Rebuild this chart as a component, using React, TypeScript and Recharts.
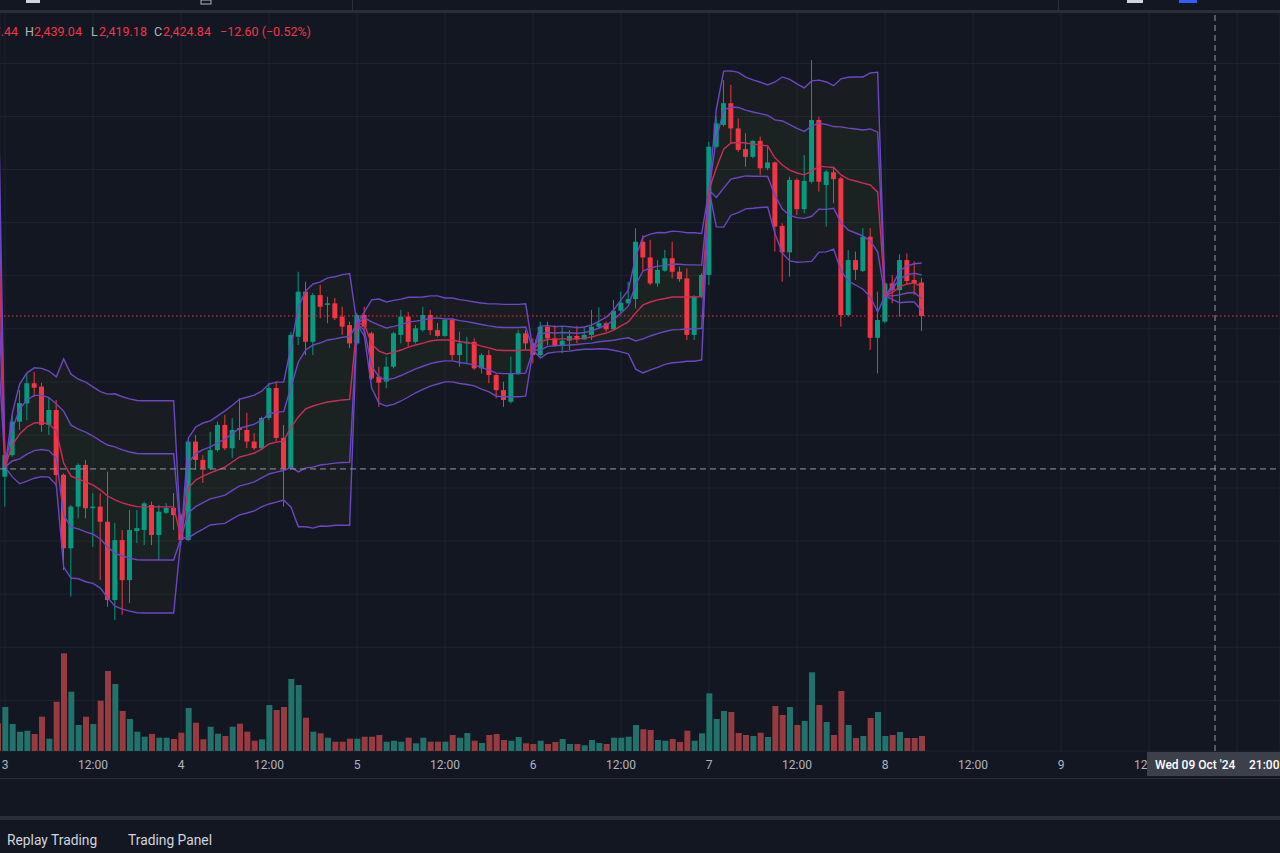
import React from "react";
import {
  ComposedChart,
  XAxis,
  YAxis,
  CartesianGrid,
  Bar,
  Line,
  Area,
  Cell,
  ReferenceLine,
} from "recharts";

// hourly candles, index 0 = Thu 03 Oct 2024 00:00 (ETH/USD, 1h)
const FIRST_HOUR = -1;

const opens = [
  2382.6,
  2364.3, 2372.4, 2385.0, 2391.9, 2399.5, 2398.2, 2383.8, 2389.4, 2365.0, 2337.3, 2353.0, 2368.7,
  2352.4, 2353.0, 2347.3, 2317.8, 2340.4, 2325.3, 2343.8, 2344.2, 2353.6, 2342.3, 2350.7, 2352.5,
  2349.8, 2340.4, 2377.5, 2370.6, 2367.4, 2374.3, 2383.8, 2375.0, 2382.6, 2381.9, 2377.5, 2375.0,
  2386.4, 2397.7, 2378.9, 2367.4, 2417.0, 2434.0, 2415.1, 2432.7, 2429.0, 2429.6, 2424.6, 2421.4,
  2414.5, 2425.2, 2418.3, 2402.0, 2400.1, 2405.7, 2417.7, 2424.6, 2415.1, 2419.5, 2425.2, 2419.5,
  2417.3, 2423.3, 2410.1, 2414.5, 2415.1, 2405.1, 2410.1, 2402.6, 2396.9, 2392.5, 2403.2, 2418.3,
  2414.5, 2410.1, 2420.8, 2416.4, 2413.5, 2415.5, 2417.3, 2416.0, 2417.7, 2420.8, 2422.1, 2419.8,
  2426.8, 2429.6, 2431.2, 2452.8, 2446.9, 2437.1, 2441.9, 2446.6, 2441.5, 2439.0, 2417.7, 2432.1,
  2440.3, 2488.6, 2496.8, 2505.0, 2495.5, 2487.7, 2484.8, 2490.8, 2480.5, 2482.7, 2458.8, 2448.8,
  2476.1, 2465.1, 2475.4, 2498.7, 2474.2, 2479.0, 2476.7, 2425.2, 2445.9, 2441.8, 2454.7, 2416.6,
  2422.7, 2437.1, 2434.6, 2445.9, 2438.4, 2437.44,
];

const highs = [
  2385.6,
  2373.2, 2387.5, 2396.9, 2403.3, 2403.7, 2399.6, 2393.9, 2393.2, 2365.5, 2353.6, 2369.3, 2370.6,
  2358.1, 2358.1, 2366.2, 2346.8, 2344.2, 2351.7, 2351.7, 2354.9, 2354.9, 2353.6, 2354.3, 2358.1,
  2350.6, 2378.1, 2380.0, 2372.4, 2381.2, 2385.0, 2387.5, 2386.4, 2393.9, 2388.3, 2380.7, 2386.9,
  2399.6, 2400.1, 2383.8, 2418.9, 2441.5, 2437.7, 2433.5, 2436.5, 2432.1, 2431.6, 2428.3, 2422.7,
  2426.0, 2428.3, 2418.9, 2405.7, 2409.5, 2418.9, 2427.1, 2426.4, 2421.4, 2428.3, 2427.1, 2422.2,
  2423.5, 2424.0, 2418.9, 2417.0, 2416.4, 2410.8, 2412.0, 2403.2, 2400.1, 2409.5, 2419.5, 2419.5,
  2416.4, 2422.7, 2422.7, 2421.4, 2420.8, 2419.5, 2421.1, 2420.8, 2427.1, 2428.1, 2422.7, 2430.9,
  2434.0, 2437.7, 2457.9, 2455.3, 2453.5, 2445.9, 2449.7, 2452.8, 2443.4, 2442.8, 2432.7, 2440.9,
  2490.5, 2499.9, 2513.7, 2511.9, 2499.3, 2493.7, 2491.1, 2492.4, 2488.6, 2483.0, 2459.8, 2477.3,
  2476.7, 2485.5, 2521.3, 2499.9, 2479.8, 2481.1, 2477.3, 2449.7, 2449.1, 2457.9, 2457.9, 2434.0,
  2437.7, 2440.3, 2448.1, 2448.4, 2445.5, 2439.04,
];

const lows = [
  2363.0,
  2353.0, 2371.8, 2381.9, 2385.6, 2394.4, 2381.2, 2380.0, 2360.5, 2329.1, 2319.1, 2348.6, 2348.6,
  2337.8, 2325.3, 2315.3, 2310.3, 2312.2, 2316.7, 2339.3, 2338.5, 2338.5, 2332.9, 2350.2, 2344.2,
  2338.5, 2340.0, 2366.8, 2361.9, 2366.8, 2373.7, 2374.3, 2371.3, 2378.1, 2375.1, 2374.3, 2374.3,
  2385.6, 2377.5, 2353.0, 2366.8, 2413.9, 2410.1, 2410.1, 2424.0, 2422.1, 2423.3, 2417.7, 2412.7,
  2413.9, 2417.7, 2400.7, 2390.6, 2397.6, 2405.1, 2414.5, 2413.3, 2414.5, 2418.9, 2417.7, 2417.0,
  2417.0, 2408.2, 2405.7, 2407.0, 2404.5, 2403.2, 2399.5, 2393.8, 2390.6, 2391.9, 2402.6, 2412.0,
  2407.0, 2409.5, 2413.9, 2413.3, 2410.8, 2412.0, 2414.5, 2415.8, 2415.8, 2420.2, 2418.9, 2419.5,
  2425.8, 2429.6, 2427.7, 2441.5, 2436.5, 2435.9, 2441.5, 2439.0, 2437.7, 2415.8, 2415.8, 2431.5,
  2436.5, 2488.1, 2496.2, 2489.9, 2486.7, 2481.1, 2484.2, 2478.0, 2479.8, 2449.1, 2437.7, 2439.6,
  2462.9, 2463.5, 2474.8, 2471.7, 2458.5, 2467.3, 2420.8, 2424.6, 2438.4, 2441.4, 2412.0, 2403.2,
  2422.1, 2429.6, 2424.6, 2436.5, 2432.7, 2419.18,
];

const closes = [
  2364.3,
  2372.4, 2385.0, 2392.0, 2399.5, 2397.8, 2383.8, 2389.4, 2364.9, 2337.3, 2353.0, 2368.7, 2352.4,
  2353.0, 2347.3, 2317.8, 2340.4, 2325.3, 2344.2, 2344.9, 2354.2, 2342.3, 2351.1, 2352.5, 2349.8,
  2340.4, 2377.5, 2370.6, 2367.4, 2374.3, 2383.8, 2375.0, 2381.9, 2381.9, 2377.5, 2375.0, 2386.4,
  2397.7, 2378.9, 2367.4, 2417.7, 2434.0, 2415.1, 2432.7, 2428.3, 2429.6, 2424.0, 2420.8, 2414.5,
  2425.2, 2420.8, 2401.3, 2399.7, 2405.7, 2418.3, 2424.6, 2415.1, 2420.2, 2425.2, 2419.5, 2417.3,
  2423.3, 2410.1, 2414.5, 2415.1, 2405.1, 2410.1, 2402.6, 2396.9, 2393.2, 2403.2, 2418.3, 2414.5,
  2410.1, 2420.8, 2416.4, 2413.5, 2415.5, 2417.3, 2416.0, 2417.7, 2420.8, 2422.1, 2419.8, 2426.8,
  2429.8, 2431.2, 2452.8, 2446.9, 2437.1, 2442.2, 2446.6, 2441.5, 2438.7, 2417.7, 2432.1, 2440.3,
  2488.6, 2497.4, 2505.0, 2495.5, 2487.4, 2484.8, 2490.8, 2480.5, 2482.7, 2458.5, 2448.8, 2476.1,
  2465.1, 2475.7, 2498.7, 2475.4, 2479.2, 2476.4, 2425.2, 2445.9, 2442.2, 2454.7, 2416.6, 2423.3,
  2437.1, 2434.6, 2445.9, 2438.0, 2437.1, 2424.84,
];

const volumes = [
  2770,
  4400, 2700, 1930, 2030, 1700, 3430, 1230, 4930, 9770, 5930, 2600, 3430,
  2700, 5030, 8000, 6700, 4000, 3200, 1930, 1430, 1700, 1330, 1330, 1200,
  1830, 4300, 2830, 1170, 2430, 1730, 1500, 2430, 2730, 1930, 1030, 1170,
  4600, 4100, 4400, 7200, 6600, 3330, 1930, 1770, 1330, 930, 930, 1230,
  1230, 1430, 1430, 1600, 930, 1030, 930, 1330, 770, 1330, 930, 930,
  930, 1600, 1330, 1800, 1030, 800, 1600, 1700, 1100, 1030, 1400, 770,
  700, 1030, 700, 900, 1200, 700, 700, 570, 1100, 800, 700, 1330,
  1330, 1430, 2600, 2170, 2100, 1100, 1030, 1200, 900, 2030, 1030, 1770,
  5770, 3200, 4000, 3900, 1800, 1600, 1500, 1830, 1400, 4500, 3600, 4400,
  2600, 3000, 7870, 4600, 2900, 1600, 6000, 2600, 1300, 1500, 3300, 3900,
  1500, 1600, 1900, 1300, 1300, 1500,
];

// session VWAP (anchored daily) and its standard deviation
const vwaps = [
  2468.5,
  2367.9, 2376.2, 2380.4, 2383.0, 2384.5, 2384.7, 2384.1, 2381.5, 2369.4, 2364.5, 2363.4, 2362.3,
  2361.1, 2359.3, 2357.0, 2355.5, 2354.4, 2353.6, 2353.0, 2352.9, 2352.9, 2352.9, 2352.9, 2352.9,
  2341.2, 2360.0, 2363.0, 2364.5, 2365.7, 2366.8, 2367.9, 2369.8, 2371.7, 2372.4, 2373.2, 2374.7,
  2376.6, 2377.3, 2377.7, 2383.0, 2386.8, 2389.8, 2390.9, 2391.7, 2392.4, 2392.8, 2393.2, 2393.4,
  2421.8, 2421.8, 2414.3, 2411.6, 2410.5, 2411.1, 2412.0, 2413.1, 2413.9, 2414.6, 2415.4, 2415.8,
  2415.8, 2415.8, 2415.2, 2414.8, 2414.3, 2413.5, 2412.8, 2412.0, 2411.8, 2411.8, 2411.8, 2412.0,
  2412.0, 2415.0, 2416.0, 2416.0, 2416.2, 2416.2, 2416.2, 2416.5, 2416.9, 2417.7, 2418.4, 2419.5,
  2421.1, 2422.6, 2426.0, 2429.0, 2430.1, 2430.9, 2431.4, 2432.0, 2432.0, 2432.0, 2432.0, 2432.1,
  2472.3, 2480.6, 2487.7, 2490.0, 2490.2, 2490.0, 2489.6, 2489.3, 2488.9, 2484.4, 2481.7, 2479.8,
  2478.7, 2478.0, 2479.4, 2481.3, 2481.0, 2480.8, 2478.0, 2476.4, 2475.7, 2474.9, 2474.2, 2471.5,
  2432.4, 2433.7, 2435.8, 2436.9, 2437.3, 2435.8,
];

const deviations = [
  26.4,
  0, 6.0, 9.4, 10.2, 10.4, 10.2, 10.0, 10.2, 19.6, 19.2, 18.8, 18.8,
  18.5, 18.5, 19.2, 20.0, 20.0, 20.0, 20.0, 20.0, 20.0, 20.0, 20.0, 20.0,
  0, 9.4, 10.0, 10.0, 9.8, 10.2, 10.6, 10.7, 10.9, 10.9, 10.9, 10.9,
  11.3, 11.3, 11.1, 15.1, 20.7, 22.2, 23.0, 23.0, 23.4, 23.4, 23.6, 23.7,
  0, 2.3, 8.3, 9.8, 9.8, 9.8, 9.6, 9.4, 9.0, 8.7, 8.5, 8.3,
  7.9, 7.9, 7.9, 7.9, 7.9, 8.1, 8.3, 8.7, 8.7, 8.7, 8.7, 8.7,
  0, 3.0, 2.6, 2.4, 2.4, 2.3, 2.1, 2.1, 2.3, 2.6, 3.0, 3.8,
  4.9, 6.0, 10.6, 12.8, 12.8, 12.7, 12.4, 12.4, 12.3, 12.1, 12.1, 11.9,
  0, 11.1, 14.7, 13.6, 13.2, 12.4, 12.1, 11.8, 11.5, 14.3, 16.6, 17.1,
  16.8, 16.4, 17.0, 16.2, 16.0, 15.4, 18.1, 19.2, 19.6, 20.0, 21.1, 22.6,
  0, 1.3, 3.0, 3.4, 3.6, 4.5,
];

const tickHours = [0, 12, 24, 36, 48, 60, 72, 84, 96, 108, 120, 132, 144, 156, 168];
// the label at 168 ("10") lies under the crosshair time box and is not visible
const tickLabels = ["3", "12:00", "4", "12:00", "5", "12:00", "6", "12:00", "7", "12:00", "8", "12:00", "9", "12:00", ""];
const priceTicks = [2280, 2300, 2320, 2340, 2360, 2380, 2400, 2420, 2440, 2460, 2480, 2500, 2520];

const LAST_PRICE = 2424.84;
const CROSS_HOUR = 165;
const CROSS_PRICE = 2367.2;

const X_DOMAIN: [number, number] = [-0.682, 173.86];
const PRICE_DOMAIN: [number, number] = [2260.92, 2539.37];
const VOL_DOMAIN: [number, number] = [0, 73900];

const UP = "#089981";
const DOWN = "#f23645";
const UP_VOL = "#20726a";
const DOWN_VOL = "#983b41";
const BAND = "#6c47c4";
const VWAP = "#cc2c58";
const BG = "#131722";
const FONT = "Roboto, 'Noto Sans', sans-serif";

const data = opens.map((o, k) => {
  const v = vwaps[k];
  const d = deviations[k];
  return {
    t: FIRST_HOUR + k,
    open: o,
    high: highs[k],
    low: lows[k],
    close: closes[k],
    range: [lows[k], highs[k]],
    vol: volumes[k],
    vwap: v,
    u1: v + d,
    l1: v - d,
    u2: v + 2 * d,
    l2: v - 2 * d,
    band1: [v - d, v + d],
    band2: [v - 2 * d, v + 2 * d],
  };
});

const Candle = (props: any) => {
  const { x, y, width, height, payload } = props;
  if (!payload || x == null || y == null) return null;
  const { open, close, high, low } = payload;
  const top = Math.min(y, y + height);
  const h = Math.abs(height);
  const cx = x + width / 2;
  const span = high - low;
  const toY = (v: number) => (span > 0 ? top + ((high - v) / span) * h : top);
  const color = close >= open ? UP : DOWN;
  const yo = toY(open);
  const yc = toY(close);
  const bTop = Math.min(yo, yc);
  const bH = Math.max(1, Math.abs(yo - yc));
  return (
    <g>
      <line x1={cx} x2={cx} y1={top} y2={top + h} stroke={color} strokeWidth={1} />
      <rect x={cx - 2.5} y={bTop} width={5} height={bH} fill={color} />
    </g>
  );
};

const TimeTick = (props: any) => {
  const { x, y, payload } = props;
  const k = tickHours.indexOf(payload.value);
  const label = k >= 0 ? tickLabels[k] : "";
  if (!label) return null;
  return (
    <text x={x} y={y + 10} textAnchor="middle" fill="#b2b5be" fontSize={12} fontFamily={FONT}>
      {label}
    </text>
  );
};

export default function App() {
  return (
    <div style={{ position: "fixed", left: 0, top: 0, width: 1280, height: 853, background: BG, overflow: "hidden" }}>
      <div style={{ position: "absolute", left: 0, top: 0 }}>
        <ComposedChart width={1280} height={778} data={data} margin={{ top: 12, right: 0, bottom: 0, left: 0 }}>
          <CartesianGrid xAxisId="main" yAxisId="p" stroke="#1f2330" strokeWidth={1} />
          <XAxis
            xAxisId="main"
            dataKey="t"
            type="number"
            scale="linear"
            domain={X_DOMAIN}
            allowDataOverflow
            ticks={tickHours}
            interval={0}
            axisLine={false}
            tickLine={false}
            height={27}
            tick={<TimeTick />}
          />
          <XAxis xAxisId="vol" dataKey="t" type="number" scale="linear" domain={X_DOMAIN} allowDataOverflow hide />
          <YAxis yAxisId="p" type="number" domain={PRICE_DOMAIN} allowDataOverflow ticks={priceTicks} hide />
          <YAxis yAxisId="v" type="number" domain={VOL_DOMAIN} allowDataOverflow hide />

          <Area xAxisId="main" yAxisId="p" dataKey="band2" type="linear" stroke="none" fill="#808000" fillOpacity={0.05} dot={false} activeDot={false} isAnimationActive={false} />
          <Area xAxisId="main" yAxisId="p" dataKey="band1" type="linear" stroke="none" fill="#4caf50" fillOpacity={0.05} dot={false} activeDot={false} isAnimationActive={false} />

          <Bar xAxisId="vol" yAxisId="v" dataKey="vol" barSize={6} isAnimationActive={false}>
            {data.map((d) => (
              <Cell key={d.t} fill={d.close >= d.open ? UP_VOL : DOWN_VOL} />
            ))}
          </Bar>

          <Line xAxisId="main" yAxisId="p" dataKey="u2" type="linear" stroke={BAND} strokeWidth={1.4} dot={false} activeDot={false} isAnimationActive={false} />
          <Line xAxisId="main" yAxisId="p" dataKey="u1" type="linear" stroke={BAND} strokeWidth={1.4} dot={false} activeDot={false} isAnimationActive={false} />
          <Line xAxisId="main" yAxisId="p" dataKey="l1" type="linear" stroke={BAND} strokeWidth={1.4} dot={false} activeDot={false} isAnimationActive={false} />
          <Line xAxisId="main" yAxisId="p" dataKey="l2" type="linear" stroke={BAND} strokeWidth={1.4} dot={false} activeDot={false} isAnimationActive={false} />
          <Line xAxisId="main" yAxisId="p" dataKey="vwap" type="linear" stroke={VWAP} strokeWidth={1.4} dot={false} activeDot={false} isAnimationActive={false} />

          <Bar xAxisId="main" yAxisId="p" dataKey="range" barSize={5} shape={<Candle />} isAnimationActive={false} />

          <ReferenceLine xAxisId="main" yAxisId="p" y={LAST_PRICE} stroke={DOWN} strokeWidth={1} strokeDasharray="1.5 2.5" />
          <ReferenceLine xAxisId="main" yAxisId="p" y={CROSS_PRICE} stroke="#9598a1" strokeWidth={1} strokeDasharray="6 4" />
          <ReferenceLine xAxisId="main" yAxisId="p" x={CROSS_HOUR} stroke="#9598a1" strokeWidth={1} strokeDasharray="6 4" />
        </ComposedChart>
      </div>

      <svg width={1280} height={853} style={{ position: "absolute", left: 0, top: 0, pointerEvents: "none" }}>
        {/* top toolbar strip */}
        <rect x={0} y={0} width={1280} height={10} fill={BG} />
        <rect x={0} y={10} width={1280} height={3} fill="#2a2e39" />
        <rect x={26} y={0} width={14} height={3} fill="#d1d4dc" />
        <rect x={201} y={0} width={10} height={4} fill="none" stroke="#b2b5be" strokeWidth={1} />
        <rect x={1127} y={0} width={16} height={3} fill="#d1d4dc" />
        <rect x={1179} y={0} width={18} height={3} fill="#2962ff" />
        <rect x={352} y={0} width={1} height={10} fill="#2a2e39" />
        <rect x={1058} y={0} width={1} height={10} fill="#2a2e39" />

        {/* legend of last candle (its open is cut by the left edge, as in the source) */}
        <g fontFamily={FONT} fontSize={12.5}>
          <text x={18} y={36} textAnchor="end" fill={DOWN}>O2,437.44</text>
          <text x={25} y={36} fill="#b2b5be">H</text>
          <text x={34} y={36} fill={DOWN}>2,439.04</text>
          <text x={91} y={36} fill="#b2b5be">L</text>
          <text x={99} y={36} fill={DOWN}>2,419.18</text>
          <text x={154} y={36} fill="#b2b5be">C</text>
          <text x={163} y={36} fill={DOWN}>2,424.84</text>
          <text x={220} y={36} fill={DOWN}>−12.60 (−0.52%)</text>
        </g>

        {/* crosshair time label */}
        <rect x={1147} y={752} width={133} height={24} fill="#3c404b" />
        <text x={1155} y={769} fill="#ffffff" fontSize={12} fontWeight={500} fontFamily={FONT}>Wed 09 Oct '24</text>
        <text x={1249} y={769} fill="#ffffff" fontSize={12} fontWeight={500} fontFamily={FONT}>21:00</text>

        {/* bottom panel */}
        <rect x={0} y={778} width={1280} height={1} fill="#2a2e39" />
        <rect x={0} y={816} width={1280} height={4} fill="#2a2e39" />
        <text x={7} y={845} fill="#d1d4dc" fontSize={13.8} fontFamily={FONT}>Replay Trading</text>
        <text x={128} y={845} fill="#d1d4dc" fontSize={13.8} fontFamily={FONT}>Trading Panel</text>
      </svg>
    </div>
  );
}
